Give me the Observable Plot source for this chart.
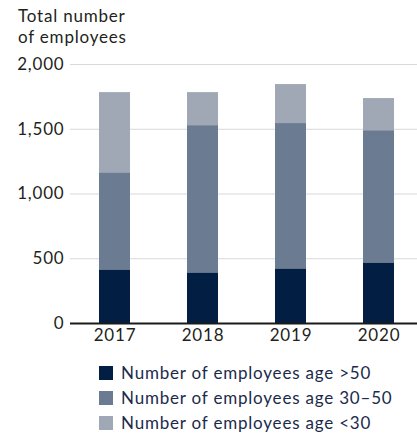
<!DOCTYPE html>
<html>
<head>
<meta charset="utf-8">
<script src="https://cdn.jsdelivr.net/npm/d3@7"></script>
<script src="https://cdn.jsdelivr.net/npm/@observablehq/plot@0.6"></script>
<style>
  html, body { margin: 0; padding: 0; background: #fff; }
  body { width: 417px; height: 436px; overflow: hidden; font-family: Lato, "Open Sans", sans-serif; letter-spacing: 0.8px; }
  #title { height: 52px; box-sizing: border-box; padding: 5px 0 0 18px; font-size: 17px; line-height: 21px; color: #231f20; }
  #chart svg { display: block; }
  #legend { margin: 8px 0 0 99px; }
  .row { display: flex; align-items: center; height: 25px; font-size: 17px; color: #1b2a4b; }
  .sw { width: 14px; height: 14px; margin-right: 8px; flex: none; }
</style>
</head>
<body>
<div id="title">Total number<br>of employees</div>
<div id="chart"></div>
<div id="legend"></div>
<script>
const years = ["2017", "2018", "2019", "2020"];
const over50 = [414, 391, 422, 468];
const age30to50 = [750, 1137, 1122, 1021];
const under30 = [619, 255, 301, 248];
const seriesNames = ["Number of employees age >50", "Number of employees age 30–50", "Number of employees age <30"];
const seriesColors = ["#021e42", "#6b7b91", "#9fa8b4"];
const yTicks = [0, 500, 1000, 1500, 2000];

const seriesValues = [over50, age30to50, under30];
const rows = [];
years.forEach((y, i) => {
  seriesNames.forEach((s, j) => rows.push({year: y, series: s, value: seriesValues[j][i]}));
});

const chart = Plot.plot({
  width: 417,
  height: 300,
  marginTop: 12,
  marginBottom: 29,
  marginLeft: 70,
  marginRight: 0,
  style: {fontFamily: "Lato, 'Open Sans', sans-serif", fontSize: "17px", color: "#231f20", background: "#fff", letterSpacing: "0.8px"},
  x: {type: "band", domain: years, range: [70, 422], paddingInner: 0.648, paddingOuter: 0.324, label: null},
  y: {domain: [0, 2000], label: null},
  color: {domain: seriesNames, range: seriesColors},
  marks: [
    Plot.gridY(yTicks.filter(d => d > 0), {stroke: "#d9d9d9", strokeOpacity: 1, strokeWidth: 1.2}),
    Plot.barY(rows, {x: "year", y: "value", fill: "series", order: null}),
    Plot.ruleY([0], {stroke: "#1a1a1a", strokeWidth: 2.2}),
    Plot.axisY(yTicks, {tickSize: 0, tickPadding: 6, tickFormat: d => d.toLocaleString("en-US"), fill: "#231f20"}),
    Plot.axisX(years, {tickSize: 0, tickPadding: 5, fill: "#231f20"})
  ]
});
document.getElementById("chart").appendChild(chart);

const legend = document.getElementById("legend");
seriesNames.forEach((s, j) => {
  const row = document.createElement("div");
  row.className = "row";
  const sw = document.createElement("div");
  sw.className = "sw";
  sw.style.background = seriesColors[j];
  const t = document.createElement("span");
  t.textContent = s;
  row.appendChild(sw);
  row.appendChild(t);
  legend.appendChild(row);
});
</script>
</body>
</html>
